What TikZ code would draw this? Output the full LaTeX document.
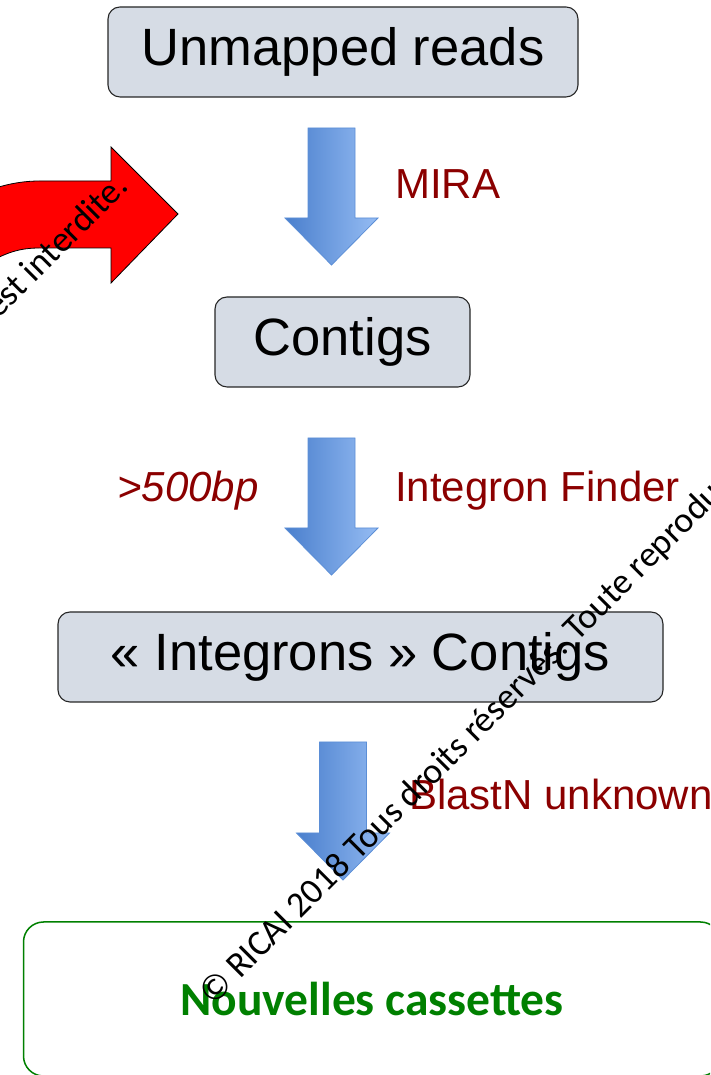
\documentclass[tikz,border=0pt]{standalone}
\usepackage{fontspec}
\setmainfont{Liberation Sans}
\newfontfamily\markfont{Carlito}
\usetikzlibrary{calc}

\definecolor{boxgray}{HTML}{D6DCE5}
\definecolor{labelred}{HTML}{8B0000}
\definecolor{newgreen}{HTML}{008000}
\definecolor{arrowdark}{HTML}{4A7FCD}
\definecolor{arrowlight}{HTML}{95BCF3}
\definecolor{arrowedge}{HTML}{5B8ED6}

\tikzset{
  stepbox/.style={draw=black!85, fill=boxgray, rounded corners=12pt, line width=1.1pt,
    minimum height=90pt, inner sep=0pt, font=\fontsize{52.5}{60}\selectfont},
  toolname/.style={text=labelred, inner sep=0pt, anchor=base west, font=\fontsize{42}{48}\selectfont},
  flowarrow/.style={left color=arrowdark, right color=arrowlight, draw=arrowedge, line width=0.8pt},
  watermark/.style={rotate=45, inner sep=0pt, font=\markfont\fontsize{36}{40}\selectfont}
}

% block arrow from top point #1 down to tip #2
\newcommand{\blockarrow}[2]{%
  \draw[flowarrow] let \p1=(#1), \p2=(#2) in
    (\x1-23.5pt,\y1) -- (\x1+23.5pt,\y1) -- (\x1+23.5pt,\y2+47pt) -- (\x1+46.5pt,\y2+47pt)
    -- (\p2) -- (\x1-46.5pt,\y2+47pt) -- (\x1-23.5pt,\y2+47pt) -- cycle;
}

\begin{document}
\begin{tikzpicture}[x=1pt, y=1pt]
  \useasboundingbox (0,0) rectangle (710,1075);
  \clip (0,0) rectangle (710,1075);

  % red arrow coming in from the left
  \draw[fill=red, line width=0.8pt] (-60,860) .. controls (-20,885) and (10,894) .. (40,894)
    -- (111,894) -- (111,928) -- (178,861) -- (111,792) -- (111,827) -- (40,827)
    .. controls (20,827) and (5,823) .. (-20,807) -- cycle;

  % steps
  \node[stepbox, minimum width=470pt] (reads) at (343,1023) {Unmapped reads};
  \node[stepbox, minimum width=255pt] (contigs) at (342.5,733) {Contigs};
  \node[stepbox, minimum width=605pt] (integrons) at (360.5,418) {« Integrons » Contigs};
  \node[draw=newgreen, line width=1.5pt, rounded corners=20pt, minimum width=697pt,
    minimum height=154pt, inner sep=0pt, text=newgreen,
    font=\markfont\bfseries\fontsize{47.5}{52}\selectfont] (cassettes) at (372,76) {Nouvelles cassettes};

  % flow arrows
  \coordinate (a1) at (331.5,947);
  \coordinate (a1tip) at (331.5,810);
  \coordinate (a2) at (331.5,637);
  \coordinate (a2tip) at (331.5,500);
  \coordinate (a3) at (343,333);
  \coordinate (a3tip) at (343,195);
  \blockarrow{a1}{a1tip}
  \blockarrow{a2}{a2tip}
  \blockarrow{a3}{a3tip}

  % tools
  \node[toolname] (mira) at (395,876) {MIRA};
  \node[toolname, font=\itshape\fontsize{42}{48}\selectfont] (length) at (117,573) {>500bp};
  \node[toolname] (finder) at (395,573) {Integron Finder};
  \node[toolname] (blast) at (409,265) {BlastN unknown};

  % watermark
  \node[watermark, anchor=base west] (mark) at (213,68)
    {© RICAI 2018 Tous droits réservés. Toute reproduction même partielle est interdite.};
  \node[watermark, anchor=base east] (markend) at (130,887)
    {© RICAI 2018 Tous droits réservés. Toute reproduction même partielle est interdite.};
\end{tikzpicture}
\end{document}
